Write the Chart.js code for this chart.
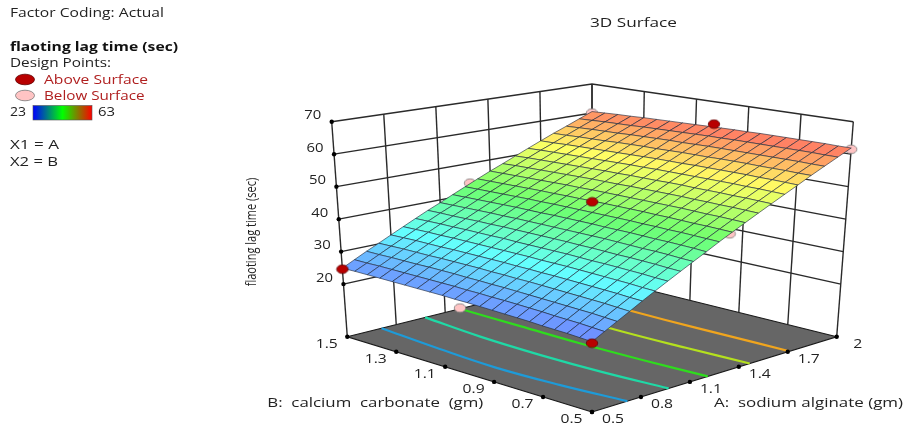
<!DOCTYPE html>
<html>
<head>
<meta charset="utf-8">
<title>3D Surface</title>
<script src="https://cdn.jsdelivr.net/npm/chart.js@4"></script>
<style>
  html, body { margin: 0; padding: 0; background: #fff; }
  #surface-chart { display: block; }
</style>
</head>
<body>
<canvas id="surface-chart" width="904" height="428"></canvas>
<script>
// ------------------------------------------------------
// @Data
// ------------------------------------------------------
const aTicks = [0.5, 0.8, 1.1, 1.4, 1.7, 2];
const bTicks = [1.5, 1.3, 1.1, 0.9, 0.7, 0.5];
const zTicks = [20, 30, 40, 50, 60, 70];
const aTickLabels = ['0.5', '0.8', '1.1', '1.4', '1.7', '2'];
const bTickLabels = ['1.5', '1.3', '1.1', '0.9', '0.7', '0.5'];

// mesh axes
const meshA = [0.5, 0.575, 0.65, 0.725, 0.8, 0.875, 0.95, 1.025, 1.1, 1.175, 1.25, 1.325, 1.4, 1.475, 1.55, 1.625, 1.7, 1.775, 1.85, 1.925, 2];
const meshB = [0.5, 0.55, 0.6, 0.65, 0.7, 0.75, 0.8, 0.85, 0.9, 0.95, 1, 1.05, 1.1, 1.15, 1.2, 1.25, 1.3, 1.35, 1.4, 1.45, 1.5];

// response, one row per meshB, one column per meshA
const meshZ = [
  [23.6,25.5,27.4,29.3,31.3,33.2,35.1,37.0,38.9,40.8,42.8,44.7,46.6,48.5,50.4,52.3,54.2,56.2,58.1,60.0,61.9],
  [23.8,25.7,27.6,29.5,31.4,33.3,35.2,37.1,39.0,41.0,42.9,44.8,46.7,48.6,50.5,52.4,54.3,56.2,58.1,60.0,61.9],
  [24.0,25.9,27.8,29.7,31.6,33.5,35.4,37.3,39.2,41.1,43.0,44.9,46.8,48.7,50.6,52.5,54.4,56.3,58.2,60.1,62.0],
  [24.1,26.0,27.9,29.8,31.7,33.6,35.5,37.4,39.3,41.2,43.1,44.9,46.8,48.7,50.6,52.5,54.4,56.3,58.2,60.1,62.0],
  [24.2,26.1,28.0,29.9,31.8,33.7,35.6,37.5,39.3,41.2,43.1,45.0,46.9,48.8,50.7,52.6,54.5,56.3,58.2,60.1,62.0],
  [24.4,26.3,28.1,30.0,31.9,33.8,35.7,37.5,39.4,41.3,43.2,45.1,47.0,48.8,50.7,52.6,54.5,56.4,58.2,60.1,62.0],
  [24.5,26.4,28.2,30.1,32.0,33.9,35.7,37.6,39.5,41.4,43.2,45.1,47.0,48.9,50.7,52.6,54.5,56.4,58.2,60.1,62.0],
  [24.6,26.5,28.3,30.2,32.1,34.0,35.8,37.7,39.6,41.4,43.3,45.2,47.0,48.9,50.8,52.6,54.5,56.4,58.2,60.1,62.0],
  [24.7,26.6,28.4,30.3,32.1,34.0,35.9,37.7,39.6,41.4,43.3,45.2,47.0,48.9,50.8,52.6,54.5,56.3,58.2,60.1,61.9],
  [24.8,26.6,28.5,30.3,32.2,34.0,35.9,37.8,39.6,41.5,43.3,45.2,47.0,48.9,50.7,52.6,54.4,56.3,58.2,60.0,61.9],
  [24.9,26.7,28.5,30.4,32.2,34.1,35.9,37.8,39.6,41.5,43.3,45.2,47.0,48.9,50.7,52.6,54.4,56.3,58.1,60.0,61.8],
  [24.9,26.7,28.6,30.4,32.3,34.1,35.9,37.8,39.6,41.5,43.3,45.2,47.0,48.8,50.7,52.5,54.4,56.2,58.0,59.9,61.7],
  [25.0,26.8,28.6,30.5,32.3,34.1,35.9,37.8,39.6,41.5,43.3,45.1,47.0,48.8,50.6,52.5,54.3,56.1,58.0,59.8,61.6],
  [25.0,26.8,28.7,30.5,32.3,34.1,36.0,37.8,39.6,41.4,43.3,45.1,46.9,48.8,50.6,52.4,54.2,56.1,57.9,59.7,61.5],
  [25.0,26.8,28.7,30.5,32.3,34.1,35.9,37.8,39.6,41.4,43.2,45.0,46.9,48.7,50.5,52.3,54.1,56.0,57.8,59.6,61.4],
  [25.0,26.8,28.7,30.5,32.3,34.1,35.9,37.7,39.5,41.4,43.2,45.0,46.8,48.6,50.4,52.2,54.0,55.9,57.7,59.5,61.3],
  [25.0,26.8,28.6,30.4,32.2,34.1,35.9,37.7,39.5,41.3,43.1,44.9,46.7,48.5,50.3,52.1,53.9,55.7,57.5,59.3,61.2],
  [25.0,26.8,28.6,30.4,32.2,34.0,35.8,37.6,39.4,41.2,43.0,44.8,46.6,48.4,50.2,52.0,53.8,55.6,57.4,59.2,61.0],
  [25.0,26.8,28.6,30.4,32.2,34.0,35.8,37.5,39.3,41.1,42.9,44.7,46.5,48.3,50.1,51.9,53.7,55.5,57.3,59.1,60.9],
  [25.0,26.7,28.5,30.3,32.1,33.9,35.7,37.5,39.2,41.0,42.8,44.6,46.4,48.2,50.0,51.8,53.5,55.3,57.1,58.9,60.7],
  [24.9,26.7,28.5,30.2,32.0,33.8,35.6,37.4,39.1,40.9,42.7,44.5,46.3,48.0,49.8,51.6,53.4,55.2,56.9,58.7,60.5],
];

// design points
const aboveA = [0.5, 0.5, 1.25, 2];
const aboveB = [1.5, 0.5, 1, 1.03];
const aboveZ = [24.6, 23.2, 46.6, 62.7];
const belowA = [0.5, 1.28, 1.31, 2, 2];
const belowB = [1.03, 1.5, 0.5, 0.5, 1.5];
const belowZ = [22.7, 43.6, 44.4, 61.5, 60];

// contours on the floor, A read at each contourB
const contourB = [0.5, 0.75, 1, 1.25, 1.5];
const contourBlue = [0.717, 0.675, 0.655, 0.675, 0.71];
const contourTeal = [0.97, 0.94, 0.93, 0.94, 0.977];
const contourGreen = [1.21, 1.19, 1.18, 1.185, 1.19];
const contourLime = [1.467, 1.45, 1.44, 1.45, 1.46];
const contourOrange = [1.71, 1.705, 1.70, 1.705, 1.71];

// ------------------------------------------------------
// @Projection (box corners on the view, floor and top)
// ------------------------------------------------------
const FLOOR_Z = 3.8;
const TOP_Z = 70;
const BOX = {
  floor: { front: [592, 412], right: [836.7, 336.7], left: [347.3, 336.7], back: [592, 276] },
  top: { front: [592, 177], right: [853.3, 121.7], left: [331.7, 121.7], back: [592, 84] },
};

function bilerp(level, u, v, k) {
  return (1 - u) * (1 - v) * level.front[k] + u * (1 - v) * level.right[k] +
    (1 - u) * v * level.left[k] + u * v * level.back[k];
}

function project(A, B, z) {
  const u = (A - 0.5) / 1.5;
  const v = B - 0.5;
  const h = (z - FLOOR_Z) / (TOP_Z - FLOOR_Z);
  return {
    x: bilerp(BOX.floor, u, v, 0) * (1 - h) + bilerp(BOX.top, u, v, 0) * h,
    y: bilerp(BOX.floor, u, v, 1) * (1 - h) + bilerp(BOX.top, u, v, 1) * h,
  };
}

function surfaceColor(z) {
  const stops = [[112, 124, 255], [100, 255, 255], [110, 255, 110], [255, 255, 100], [255, 100, 100]];
  const t = Math.min(0.9999, Math.max(0, (z - 23) / 40)) * 4;
  const i = Math.floor(t);
  const f = t - i;
  const c = stops[i].map((s, n) => Math.round(s + (stops[i + 1][n] - s) * f));
  return `rgb(${c[0]},${c[1]},${c[2]})`;
}

function marker(fill, stroke) {
  const c = document.createElement('canvas');
  c.width = 14;
  c.height = 11;
  const g = c.getContext('2d');
  g.beginPath();
  g.ellipse(7, 5.5, 5.7, 4.3, 0, 0, Math.PI * 2);
  g.fillStyle = fill;
  g.fill();
  g.strokeStyle = stroke;
  g.lineWidth = 0.8;
  g.stroke();
  return c;
}

// ------------------------------------------------------
// @Datasets
// ------------------------------------------------------
const datasets = [];

function addLine(data, color, width, order, extra) {
  datasets.push(Object.assign({
    data: data,
    showLine: true,
    borderColor: color,
    borderWidth: width,
    pointRadius: 0,
    fill: false,
    order: order,
  }, extra));
}

// floor
addLine([
  project(0.5, 0.5, FLOOR_Z), project(2, 0.5, FLOOR_Z), project(2, 1.5, FLOOR_Z),
  project(0.5, 1.5, FLOOR_Z), project(0.5, 0.5, FLOOR_Z),
], '#1a1a1a', 1.2, 60, { fill: 'shape', backgroundColor: '#666666' });

// contours
[[contourBlue, '#1e9bd8'], [contourTeal, '#1fd9a6'], [contourGreen, '#2fdc1e'],
  [contourLime, '#b4e01e'], [contourOrange, '#f0a51e']].forEach(function (c) {
  addLine(contourB.map((b, i) => project(c[0][i], b, FLOOR_Z)), c[1], 2.2, 55, { tension: 0.4 });
});

// walls
const WALL = '#2a2a2a';
aTicks.forEach(function (a) {
  addLine([project(a, 1.5, FLOOR_Z), project(a, 1.5, TOP_Z)], WALL, 1.4, 50);
});
bTicks.forEach(function (b) {
  addLine([project(2, b, FLOOR_Z), project(2, b, TOP_Z)], WALL, 1.4, 50);
});
zTicks.forEach(function (z) {
  addLine([project(0.5, 1.5, z), project(2, 1.5, z), project(2, 0.5, z)], WALL, 1.4, 50);
});

// tick dots
const dots = { showLine: false, pointRadius: 2.2, pointBackgroundColor: '#000', pointBorderWidth: 0, order: 45 };
datasets.push(Object.assign({ data: zTicks.map((z) => project(0.5, 1.5, z)) }, dots));
datasets.push(Object.assign({ data: bTicks.map((b) => project(0.5, b, FLOOR_Z)) }, dots));
datasets.push(Object.assign({ data: aTicks.map((a) => project(a, 0.5, FLOOR_Z)) }, dots));

// design points under the surface
datasets.push({
  data: belowA.map((a, i) => project(a, belowB[i], belowZ[i])),
  showLine: false,
  pointStyle: marker('#ffc4c4', '#777777'),
  order: 30,
});

// surface mesh
for (let i = 0; i < meshB.length - 1; i++) {
  for (let j = 0; j < meshA.length - 1; j++) {
    const avg = (meshZ[i][j] + meshZ[i][j + 1] + meshZ[i + 1][j] + meshZ[i + 1][j + 1]) / 4;
    addLine([
      project(meshA[j], meshB[i], meshZ[i][j]),
      project(meshA[j + 1], meshB[i], meshZ[i][j + 1]),
      project(meshA[j + 1], meshB[i + 1], meshZ[i + 1][j + 1]),
      project(meshA[j], meshB[i + 1], meshZ[i + 1][j]),
      project(meshA[j], meshB[i], meshZ[i][j]),
    ], 'rgba(30,40,60,0.62)', 1, 20, { fill: 'shape', backgroundColor: surfaceColor(avg) });
  }
}

// design points above the surface
datasets.push({
  data: aboveA.map((a, i) => project(a, aboveB[i], aboveZ[i])),
  showLine: false,
  pointStyle: marker('#b80000', '#600000'),
  order: 10,
});

// ------------------------------------------------------
// @Text and legend
// ------------------------------------------------------
function label(ctx, str, x, y, width, font, color, align) {
  ctx.save();
  ctx.font = font;
  ctx.fillStyle = color || '#222';
  ctx.textBaseline = 'middle';
  ctx.textAlign = 'left';
  const natural = ctx.measureText(str).width;
  const sx = width ? width / natural : 1;
  const w = natural * sx;
  const left = align === 'center' ? x - w / 2 : x;
  ctx.translate(left, y + 1);
  ctx.scale(sx, 1);
  ctx.fillText(str, 0, 0);
  ctx.restore();
}

const FONT = '12px "Open Sans"';
const textPlugin = {
  id: 'surfaceText',
  afterDraw(chart) {
    const ctx = chart.ctx;
    const sx = chart.scales.x;
    const sy = chart.scales.y;

    label(ctx, 'Factor Coding: Actual', 10, 13, 154, FONT);
    label(ctx, 'flaoting lag time (sec)', 10, 46.5, 168, 'bold 12px "Open Sans"', '#111');
    label(ctx, 'Design Points:', 10, 62.5, 101, FONT);
    label(ctx, 'Above Surface', 44, 79.5, 104, FONT, '#b02020');
    label(ctx, 'Below Surface', 44, 95.5, 100.5, FONT, '#b02020');
    label(ctx, '23', 10, 112, 16, FONT);
    label(ctx, '63', 98, 112, 17, FONT);
    label(ctx, 'X1 = A', 10, 145, 49, FONT);
    label(ctx, 'X2 = B', 10, 162, 48, FONT);
    label(ctx, '3D Surface', 633.5, 23, 87, FONT, '#222', 'center');
    label(ctx, 'B:  calcium  carbonate  (gm)', 267.3, 402.5, 216, FONT);
    label(ctx, 'A:  sodium alginate (gm)', 714, 402.5, 189, FONT);

    // legend keys
    [[79.5, '#b80000', '#600000'], [95.5, '#ffc4c4', '#777777']].forEach(function (k) {
      ctx.beginPath();
      ctx.ellipse(25, k[0], 9.5, 5.3, 0, 0, Math.PI * 2);
      ctx.fillStyle = k[1];
      ctx.fill();
      ctx.strokeStyle = k[2];
      ctx.lineWidth = 0.8;
      ctx.stroke();
    });

    // colour key
    const grad = ctx.createLinearGradient(33, 0, 92, 0);
    grad.addColorStop(0, '#0000ff');
    grad.addColorStop(0.5, '#00ff00');
    grad.addColorStop(1, '#ff0000');
    ctx.fillStyle = grad;
    ctx.fillRect(33, 105.5, 59, 14.5);
    ctx.strokeStyle = '#555';
    ctx.lineWidth = 0.6;
    ctx.strokeRect(33, 105.5, 59, 14.5);

    // tick labels, offset from their tick on the box edge
    zTicks.forEach(function (z) {
      const p = project(0.5, 1.5, z);
      label(ctx, String(z), sx.getPixelForValue(p.x) - 19, sy.getPixelForValue(p.y) - 7, 17, FONT, '#222', 'center');
    });
    bTicks.forEach(function (b, i) {
      const p = project(0.5, b, FLOOR_Z);
      label(ctx, bTickLabels[i], sx.getPixelForValue(p.x) - 20.5, sy.getPixelForValue(p.y) + 7, 22, FONT, '#222', 'center');
    });
    aTicks.forEach(function (a, i) {
      const p = project(a, 0.5, FLOOR_Z);
      label(ctx, aTickLabels[i], sx.getPixelForValue(p.x) + 21, sy.getPixelForValue(p.y) + 7, i === 5 ? 9 : 22, FONT, '#222', 'center');
    });

    // response axis title
    ctx.save();
    ctx.translate(251.7, 232);
    ctx.rotate(-Math.PI / 2);
    label(ctx, 'flaoting lag time (sec)', 0, -1, 108.7, '15px "Open Sans"', '#222', 'center');
    ctx.restore();
  },
};

// ------------------------------------------------------
// @Chart
// ------------------------------------------------------
new Chart(document.getElementById('surface-chart').getContext('2d'), {
  type: 'scatter',
  data: { datasets: datasets },
  options: {
    responsive: false,
    animation: false,
    events: [],
    layout: { padding: 0, autoPadding: false },
    scales: {
      x: { type: 'linear', min: 0, max: 904, display: false },
      y: { type: 'linear', min: 0, max: 428, reverse: true, display: false },
    },
    plugins: { legend: { display: false }, tooltip: { enabled: false } },
  },
  plugins: [textPlugin],
});
</script>
</body>
</html>
